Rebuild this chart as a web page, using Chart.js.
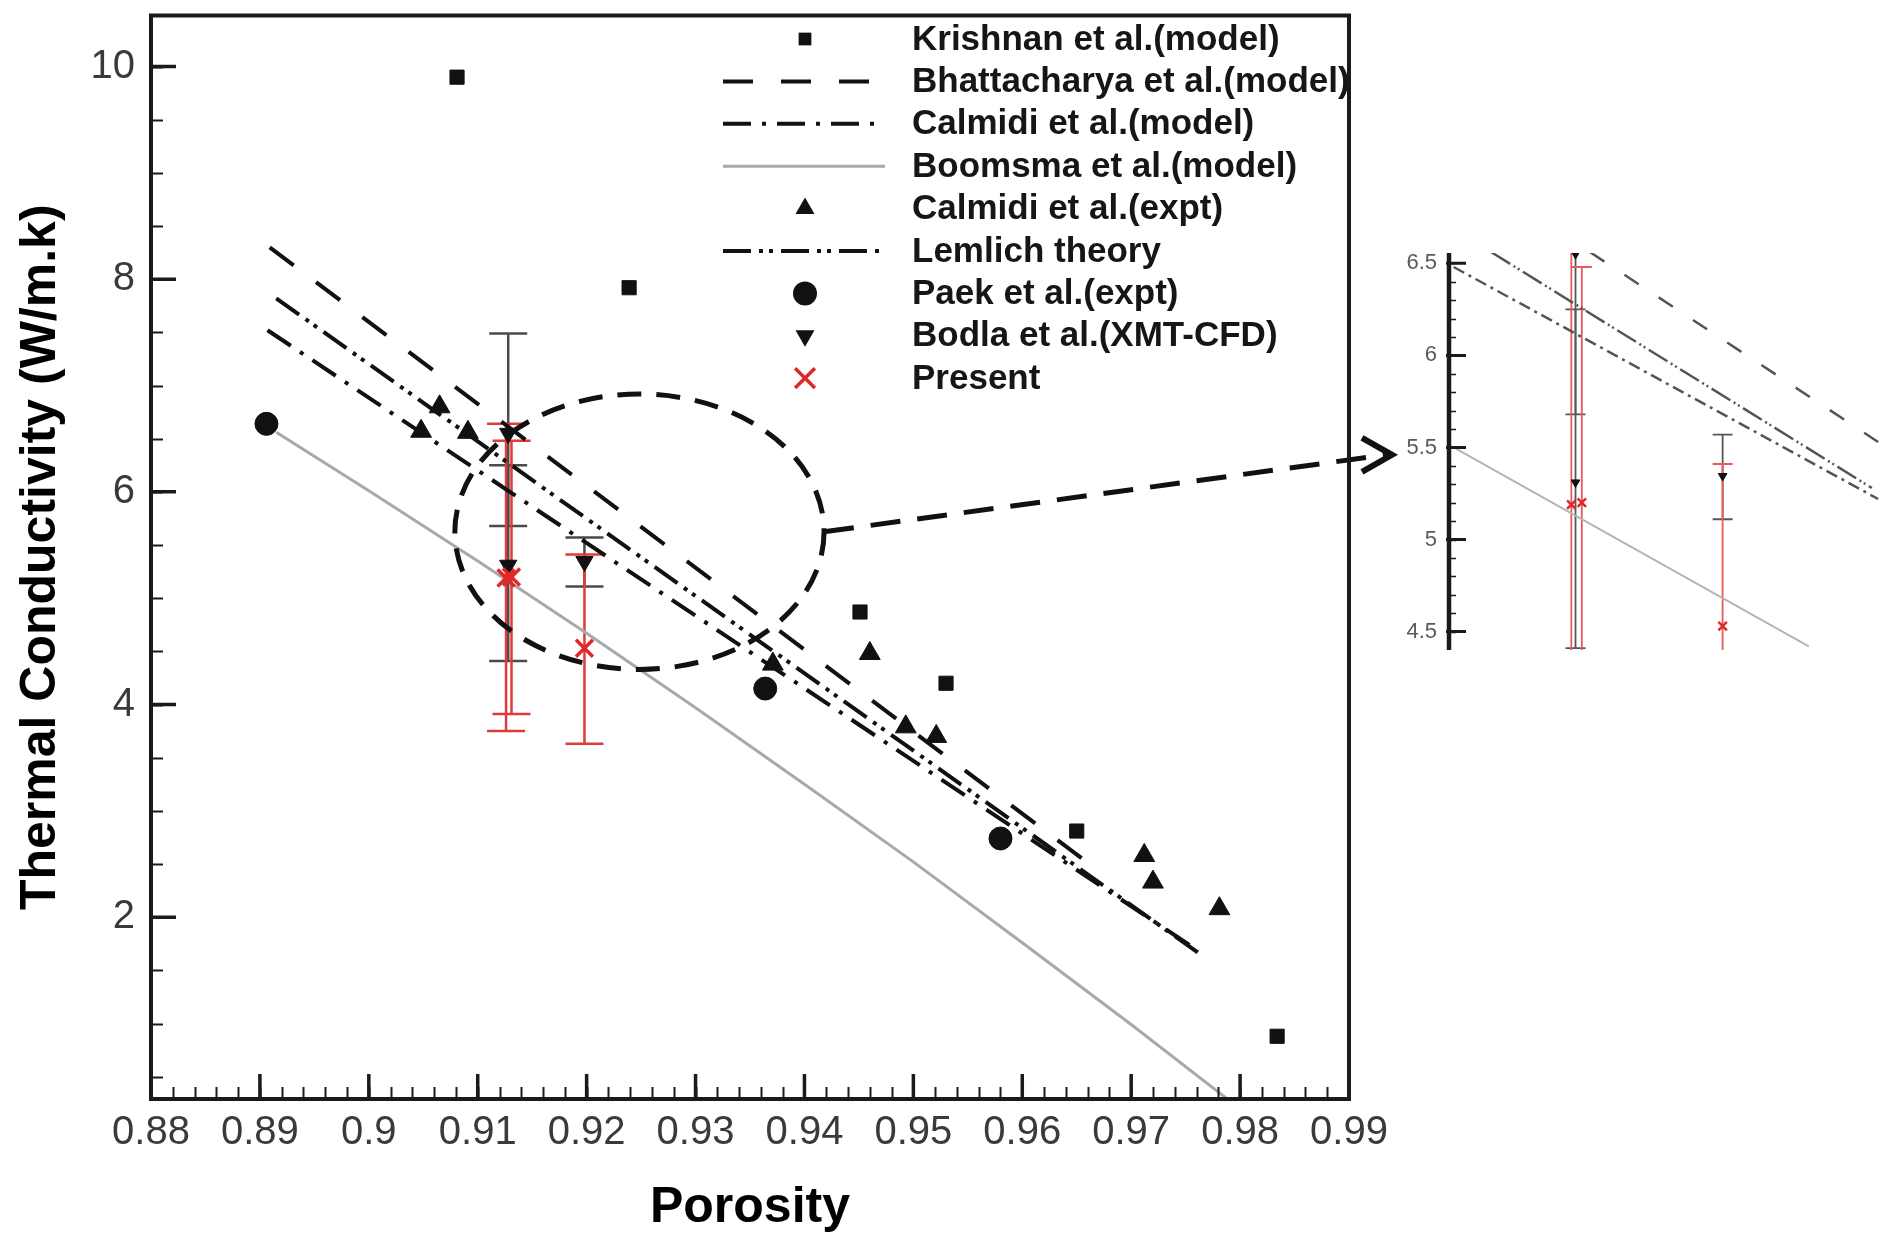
<!DOCTYPE html>
<html>
<head>
<meta charset="utf-8">
<script src="https://cdn.jsdelivr.net/npm/chart.js@4.4.1/dist/chart.umd.min.js"></script>
<style>
  html, body { margin: 0; padding: 0; background: #ffffff; }
  #wrap { position: relative; width: 1894px; height: 1234px; overflow: hidden; }
  #main { position: absolute; left: 0; top: 0; }
  #inset { position: absolute; left: 1380px; top: 230px; }
</style>
</head>
<body>
<div id="wrap">
  <canvas id="main" width="1894" height="1234"></canvas>
  <canvas id="inset" width="514" height="440"></canvas>
</div>
<script>
// Effective thermal conductivity of metal foams versus porosity

// ---- series values ----
const krishnanX = [0.9081, 0.9239, 0.9451, 0.9530, 0.9650, 0.9834];
const krishnanY = [9.90, 7.92, 4.87, 4.20, 2.81, 0.88];

const bhattacharyaX = [0.8909, 0.9655];
const bhattacharyaY = [8.30, 2.55];

const calmidiModelX = [0.8907, 0.9762];
const calmidiModelY = [7.52, 1.68];

const boomsmaX = [0.8915, 0.900, 0.910, 0.920, 0.930, 0.940, 0.950, 0.960, 0.970, 0.9787];
const boomsmaY = [6.56, 6.01, 5.35, 4.67, 3.97, 3.25, 2.52, 1.76, 0.99, 0.30];

const calmidiExptX = [0.9048, 0.9065, 0.9091, 0.9371, 0.9460, 0.9493, 0.9521, 0.9712, 0.9720, 0.9781];
const calmidiExptY = [6.57, 6.80, 6.56, 4.38, 4.48, 3.79, 3.70, 2.58, 2.33, 2.08];

const lemlichX = [0.8915, 0.9765];
const lemlichY = [7.82, 1.64];

const paekX = [0.8906, 0.9364, 0.9580];
const paekY = [6.64, 4.15, 2.74];

const bodlaX = [0.9128, 0.9128, 0.9198];
const bodlaY = [6.55, 5.31, 5.345];
const bodlaLow = [5.68, 4.41, 5.11];
const bodlaHigh = [7.49, 6.25, 5.57];

const presentX = [0.9126, 0.9131, 0.9198];
const presentY = [5.19, 5.20, 4.53];
const presentLow = [3.75, 3.91, 3.63];
const presentHigh = [6.64, 6.48, 5.41];

// close-up panel lines
const insetBhattacharyaX = [0.9135, 0.9272];
const insetBhattacharyaY = [6.56, 5.53];
const insetLemlichX = [0.9088, 0.9269];
const insetLemlichY = [6.56, 5.28];
const insetCalmidiX = [0.9070, 0.9272];
const insetCalmidiY = [6.48, 5.22];
const insetBoomsmaX = [0.9070, 0.9239];
const insetBoomsmaY = [5.50, 4.42];

// ---- tick labels ----
const porosityTicks = [0.88, 0.89, 0.90, 0.91, 0.92, 0.93, 0.94, 0.95, 0.96, 0.97, 0.98, 0.99];
const conductivityTicks = [2, 4, 6, 8, 10];
const insetTicks = [4.5, 5, 5.5, 6, 6.5];

const FONT = "'Liberation Sans', Arial, Helvetica, sans-serif";
const pts = (xs, ys) => xs.map((x, i) => ({ x: x, y: ys[i] }));
const fmt = v => String(+Number(v).toFixed(3));

// marker shapes, same geometry as Chart.js point styles
function drawMarker(ctx, style, r, rotDeg, x, y) {
  let a = (rotDeg || 0) * Math.PI / 180;
  ctx.beginPath();
  if (style === 'circle') {
    ctx.arc(x, y, r, 0, 2 * Math.PI); ctx.fill();
  } else if (style === 'rect') {
    const s = Math.SQRT1_2 * r; ctx.rect(x - s, y - s, 2 * s, 2 * s); ctx.fill();
  } else if (style === 'triangle') {
    ctx.moveTo(x + Math.sin(a) * r, y - Math.cos(a) * r);
    a += 2 * Math.PI / 3; ctx.lineTo(x + Math.sin(a) * r, y - Math.cos(a) * r);
    a += 2 * Math.PI / 3; ctx.lineTo(x + Math.sin(a) * r, y - Math.cos(a) * r);
    ctx.closePath(); ctx.fill();
  } else if (style === 'crossRot') {
    const d = Math.cos(Math.PI / 4) * r;
    ctx.moveTo(x - d, y - d); ctx.lineTo(x + d, y + d);
    ctx.moveTo(x - d, y + d); ctx.lineTo(x + d, y - d); ctx.stroke();
  }
}

// vertical error bars with caps, read from errLow / errHigh on a dataset
const errorBars = {
  id: 'errorBars',
  beforeDatasetsDraw(chart, args, o) {
    const { ctx, chartArea: a, scales: { x, y } } = chart;
    ctx.save();
    ctx.beginPath(); ctx.rect(a.left, a.top, a.right - a.left, a.bottom - a.top); ctx.clip();
    chart.data.datasets.forEach(ds => {
      if (!ds.errLow) return;
      ds.data.forEach((p, i) => {
        const px = x.getPixelForValue(p.x);
        const lo = y.getPixelForValue(ds.errLow[i]);
        const hi = y.getPixelForValue(ds.errHigh[i]);
        ctx.strokeStyle = ds.errColor;
        ctx.lineWidth = o.width;
        ctx.beginPath();
        ctx.moveTo(px, lo); ctx.lineTo(px, hi);
        ctx.moveTo(px - o.cap, lo); ctx.lineTo(px + o.cap, lo);
        ctx.moveTo(px - o.cap, hi); ctx.lineTo(px + o.cap, hi);
        ctx.stroke();
      });
    });
    ctx.restore();
  }
};

// boxed frame with inward major/minor ticks on the left and bottom
const frameTicks = {
  id: 'frameTicks',
  afterDraw(chart, args, o) {
    const { ctx, chartArea: a, scales: { x, y } } = chart;
    ctx.save();
    ctx.strokeStyle = '#1a1a1a';
    ctx.lineCap = 'butt';
    ctx.beginPath();
    for (let v = x.min; v <= x.max + 1e-9; v += o.xMinor) {
      const px = Math.round(x.getPixelForValue(v)) + 0.5;
      ctx.moveTo(px, a.bottom); ctx.lineTo(px, a.bottom - o.minorLen);
    }
    for (let v = Math.ceil(y.min / o.yMinor) * o.yMinor; v <= y.max + 1e-9; v += o.yMinor) {
      const py = Math.round(y.getPixelForValue(v)) + 0.5;
      ctx.moveTo(a.left, py); ctx.lineTo(a.left + o.minorLen, py);
    }
    ctx.lineWidth = 2; ctx.stroke();
    ctx.beginPath();
    porosityTicks.forEach(v => {
      const px = x.getPixelForValue(v);
      ctx.moveTo(px, a.bottom); ctx.lineTo(px, a.bottom - o.majorLen);
    });
    conductivityTicks.forEach(v => {
      const py = y.getPixelForValue(v);
      ctx.moveTo(a.left, py); ctx.lineTo(a.left + o.majorLen, py);
    });
    ctx.lineWidth = 3.5; ctx.stroke();
    ctx.lineWidth = 4;
    ctx.strokeRect(a.left, a.top, a.right - a.left, a.bottom - a.top);
    ctx.restore();
  }
};

// dashed ellipse around the crowded region and the arrow to the close-up panel
const callout = {
  id: 'callout',
  afterDatasetsDraw(chart, args, o) {
    const { ctx, scales: { x, y } } = chart;
    const cx = x.getPixelForValue(o.center[0]);
    const cy = y.getPixelForValue(o.center[1]);
    const rx = x.getPixelForValue(o.center[0] + o.radius[0]) - cx;
    const ry = cy - y.getPixelForValue(o.center[1] + o.radius[1]);
    ctx.save();
    ctx.strokeStyle = '#111';
    ctx.lineWidth = 5;
    ctx.setLineDash([24, 15]);
    ctx.beginPath(); ctx.ellipse(cx, cy, rx, ry, 0, 0, 2 * Math.PI); ctx.stroke();
    const t = o.target();
    ctx.setLineDash([30, 17]);
    ctx.beginPath(); ctx.moveTo(cx + rx, cy); ctx.lineTo(t.x - 6, t.y); ctx.stroke();
    ctx.setLineDash([]);
    ctx.lineWidth = 6;
    ctx.beginPath();
    ctx.moveTo(t.x - 30, t.y - 17); ctx.lineTo(t.x, t.y); ctx.lineTo(t.x - 30, t.y + 17);
    ctx.stroke();
    ctx.restore();
  }
};

// legend inside the plot, one row per dataset
const legendBox = {
  id: 'legendBox',
  afterDraw(chart, args, o) {
    const ctx = chart.ctx;
    ctx.save();
    chart.data.datasets.forEach((ds, i) => {
      const yy = o.top + i * o.step;
      if (ds.showLine) {
        ctx.strokeStyle = ds.borderColor;
        ctx.lineWidth = ds.borderWidth;
        ctx.setLineDash(ds.borderDash || []);
        ctx.beginPath(); ctx.moveTo(o.lineLeft, yy); ctx.lineTo(o.lineRight, yy); ctx.stroke();
        ctx.setLineDash([]);
      } else {
        ctx.fillStyle = ds.backgroundColor;
        ctx.strokeStyle = ds.borderColor;
        ctx.lineWidth = ds.borderWidth || 1;
        drawMarker(ctx, ds.pointStyle, ds.legendRadius || ds.pointRadius, ds.rotation, o.markerX, yy);
      }
      ctx.fillStyle = '#161616';
      ctx.font = 'bold ' + o.fontSize + 'px ' + FONT;
      ctx.textAlign = 'left';
      ctx.textBaseline = 'middle';
      ctx.fillText(ds.label, o.textX, yy + 1);
    });
    ctx.restore();
  }
};

// close-up panel: vertical axis with inward ticks
const insetAxis = {
  id: 'insetAxis',
  afterDraw(chart, args, o) {
    const { ctx, chartArea: a, scales: { y } } = chart;
    ctx.save();
    ctx.strokeStyle = '#1a1a1a';
    ctx.beginPath();
    for (let v = 4.5; v <= 6.5 + 1e-9; v += 0.1) {
      const py = Math.round(y.getPixelForValue(v)) + 0.5;
      ctx.moveTo(a.left, py); ctx.lineTo(a.left + 7, py);
    }
    ctx.lineWidth = 1.5; ctx.stroke();
    ctx.beginPath();
    insetTicks.forEach(v => {
      const py = y.getPixelForValue(v);
      ctx.moveTo(a.left - 3, py); ctx.lineTo(a.left + 17, py);
    });
    ctx.lineWidth = 3; ctx.stroke();
    ctx.lineWidth = 4.5;
    ctx.beginPath(); ctx.moveTo(a.left, a.top); ctx.lineTo(a.left, a.bottom); ctx.stroke();
    ctx.restore();
  }
};

// fixed axis box sizes; no extra room for tick-label overhang
const fixWidth = w => s => { s.width = w; s.paddingTop = 0; s.paddingBottom = 0; };
const fixHeight = h => s => { s.height = h; s.paddingLeft = 0; s.paddingRight = 0; };

const lineDs = (label, xs, ys, dash, color, width) => ({
  type: 'line', label: label, data: pts(xs, ys), showLine: true,
  borderColor: color, borderWidth: width, borderDash: dash,
  pointRadius: 0, fill: false, tension: 0, order: 10
});

// ---- close-up panel ----
const insetChart = new Chart(document.getElementById('inset'), {
  type: 'scatter',
  data: {
    datasets: [
      lineDs('Bhattacharya et al.(model)', insetBhattacharyaX, insetBhattacharyaY, [17, 24], '#555555', 2.5),
      lineDs('Lemlich theory', insetLemlichX, insetLemlichY, [22, 4, 2, 3, 2, 4], '#555555', 2.5),
      lineDs('Calmidi et al.(model)', insetCalmidiX, insetCalmidiY, [12, 5, 3, 5], '#555555', 2.5),
      lineDs('Boomsma et al.(model)', insetBoomsmaX, insetBoomsmaY, [], '#b4b4b4', 2),
      {
        label: 'Bodla et al.(XMT-CFD)', data: pts(bodlaX, bodlaY),
        pointStyle: 'triangle', rotation: 180, pointRadius: 5,
        backgroundColor: '#111', borderColor: '#111', borderWidth: 1,
        errLow: bodlaLow, errHigh: bodlaHigh, errColor: '#555555', order: 1
      },
      {
        label: 'Present', data: pts(presentX, presentY),
        pointStyle: 'crossRot', pointRadius: 6,
        backgroundColor: '#e02828', borderColor: '#e02828', borderWidth: 2.5,
        errLow: presentLow, errHigh: presentHigh, errColor: '#e85a5a', order: 0
      }
    ]
  },
  options: {
    responsive: false, animation: false, devicePixelRatio: 1, events: [],
    layout: { padding: { left: 0, top: 23, right: 0, bottom: 20 } },
    plugins: { legend: { display: false }, tooltip: { enabled: false }, errorBars: { width: 1.8, cap: 10 } },
    scales: {
      x: { type: 'linear', display: false, min: 0.90678, max: 0.92755 },
      y: {
        type: 'linear', min: 4.40, max: 6.556,
        grid: { display: false, drawTicks: false }, border: { display: false },
        afterBuildTicks: s => { s.ticks = insetTicks.map(v => ({ value: v })); },
        afterFit: fixWidth(69),
        ticks: { padding: 12, color: '#5a5a5a', font: { family: FONT, size: 22 }, callback: v => fmt(v) }
      }
    }
  },
  plugins: [errorBars, insetAxis]
});

// ---- main chart ----
const mainChart = new Chart(document.getElementById('main'), {
  type: 'scatter',
  data: {
    datasets: [
      {
        label: 'Krishnan et al.(model)', data: pts(krishnanX, krishnanY),
        pointStyle: 'rect', pointRadius: 10, legendRadius: 9,
        backgroundColor: '#111', borderColor: '#111', borderWidth: 1, order: 0
      },
      lineDs('Bhattacharya et al.(model)', bhattacharyaX, bhattacharyaY, [30, 28], '#111', 4),
      lineDs('Calmidi et al.(model)', calmidiModelX, calmidiModelY, [28, 11, 4, 11], '#111', 4),
      lineDs('Boomsma et al.(model)', boomsmaX, boomsmaY, [], '#a9a9a9', 3),
      {
        label: 'Calmidi et al.(expt)', data: pts(calmidiExptX, calmidiExptY),
        pointStyle: 'triangle', pointRadius: 12, legendRadius: 11,
        backgroundColor: '#111', borderColor: '#111', borderWidth: 1, order: 0
      },
      lineDs('Lemlich theory', lemlichX, lemlichY, [28, 8, 4, 6, 4, 8], '#111', 4),
      {
        label: 'Paek et al.(expt)', data: pts(paekX, paekY),
        pointStyle: 'circle', pointRadius: 11.5, legendRadius: 12,
        backgroundColor: '#111', borderColor: '#111', borderWidth: 1, order: 0
      },
      {
        label: 'Bodla et al.(XMT-CFD)', data: pts(bodlaX, bodlaY),
        pointStyle: 'triangle', rotation: 180, pointRadius: 10, legendRadius: 11,
        backgroundColor: '#111', borderColor: '#111', borderWidth: 1,
        errLow: bodlaLow, errHigh: bodlaHigh, errColor: '#4a4a4a', order: 0
      },
      {
        label: 'Present', data: pts(presentX, presentY),
        pointStyle: 'crossRot', pointRadius: 12, legendRadius: 14,
        backgroundColor: '#e02828', borderColor: '#e02828', borderWidth: 3.5,
        errLow: presentLow, errHigh: presentHigh, errColor: '#e03a3a', order: -1
      }
    ]
  },
  options: {
    responsive: false, animation: false, devicePixelRatio: 1, events: [],
    layout: { padding: { left: 0, top: 12, right: 545, bottom: 0 } },
    plugins: {
      legend: { display: false },
      tooltip: { enabled: false },
      errorBars: { width: 2.5, cap: 19 },
      frameTicks: { xMinor: 0.002, yMinor: 0.5, majorLen: 25, minorLen: 12 },
      legendBox: { top: 39, step: 42.4, lineLeft: 723, lineRight: 885, markerX: 805, textX: 912, fontSize: 35 },
      callout: {
        center: [0.92485, 5.625], radius: [0.01695, 1.295],
        target: () => {
          const c = insetChart.canvas;
          return {
            x: c.offsetLeft + insetChart.chartArea.left - 57,
            y: c.offsetTop + insetChart.scales.y.getPixelForValue(5.46)
          };
        }
      }
    },
    scales: {
      x: {
        type: 'linear', min: 0.88, max: 0.99,
        grid: { display: false, drawTicks: false }, border: { display: false },
        afterBuildTicks: s => { s.ticks = porosityTicks.map(v => ({ value: v })); },
        afterFit: fixHeight(135),
        ticks: { autoSkip: false, maxRotation: 0, padding: 10, color: '#3a3a3a', font: { family: FONT, size: 40 }, callback: v => fmt(v) },
        title: { display: true, text: 'Porosity', color: '#000', font: { family: FONT, size: 50, weight: 'bold', lineHeight: 1.0 }, padding: { top: 0, bottom: 1 } }
      },
      y: {
        type: 'linear', min: 0.29, max: 10.48,
        grid: { display: false, drawTicks: false }, border: { display: false },
        afterBuildTicks: s => { s.ticks = conductivityTicks.map(v => ({ value: v })); },
        afterFit: fixWidth(151),
        ticks: { padding: 16, color: '#3a3a3a', font: { family: FONT, size: 40 }, callback: v => fmt(v) },
        title: { display: true, text: 'Thermal Conductivity (W/m.k)', color: '#000', font: { family: FONT, size: 50, weight: 'bold' }, padding: { top: 11, bottom: 0 } }
      }
    }
  },
  plugins: [errorBars, callout, frameTicks, legendBox]
});
</script>
</body>
</html>
